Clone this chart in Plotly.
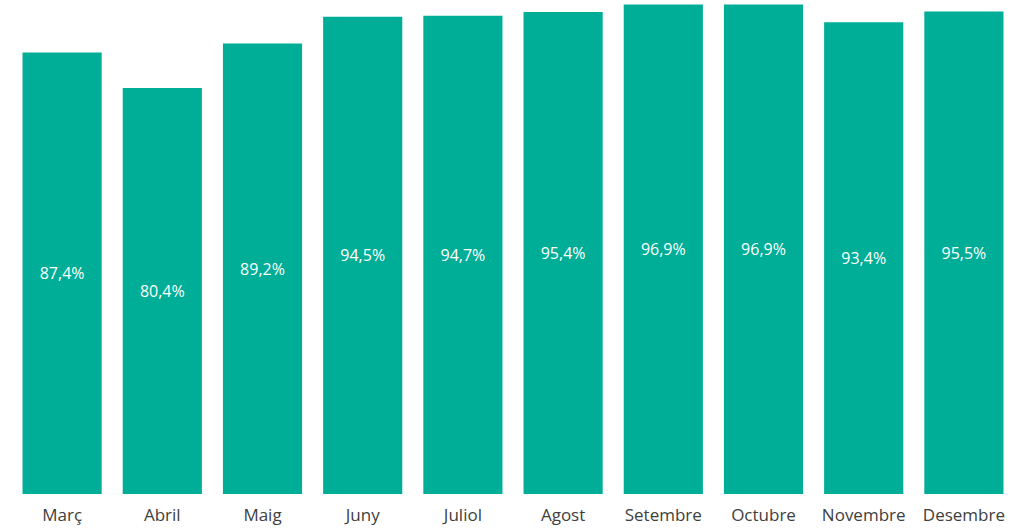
import plotly.graph_objects as go

# mesos i percentatges llegits del gràfic
mesos = ["Març", "Abril", "Maig", "Juny", "Juliol", "Agost",
         "Setembre", "Octubre", "Novembre", "Desembre"]
valors = [87.4, 80.4, 89.2, 94.5, 94.7, 95.4, 96.9, 96.9, 93.4, 95.5]

COLOR_BARRA = "#00AE97"
FONT = "Open Sans, Liberation Sans, sans-serif"

fig = go.Figure(
    go.Bar(
        x=mesos,
        y=valors,
        marker=dict(color=COLOR_BARRA, line=dict(width=0)),
        texttemplate="%{y:.1f}%",
        textposition="inside",
        insidetextanchor="middle",
        textangle=0,
        textfont=dict(family=FONT, size=16, color="white"),
        width=0.79,
        hoverinfo="skip",
    )
)

fig.update_layout(
    width=1027,
    height=528,
    separators=",.",
    plot_bgcolor="white",
    paper_bgcolor="white",
    margin=dict(l=12, r=13, t=0, b=34),
    showlegend=False,
    font=dict(family=FONT, size=17, color="#404040"),
)
fig.update_xaxes(showline=False, showgrid=False, ticks="",
                 ticklabelstandoff=9, tickfont=dict(size=17, color="#404040"))
fig.update_yaxes(visible=False, range=[0, 97.8], showgrid=False, zeroline=False)

# sense el marge del body la figura comença a (0,0)
fig.write_html("out.html", config={"displayModeBar": False},
               post_script="document.body.style.margin='0';")
